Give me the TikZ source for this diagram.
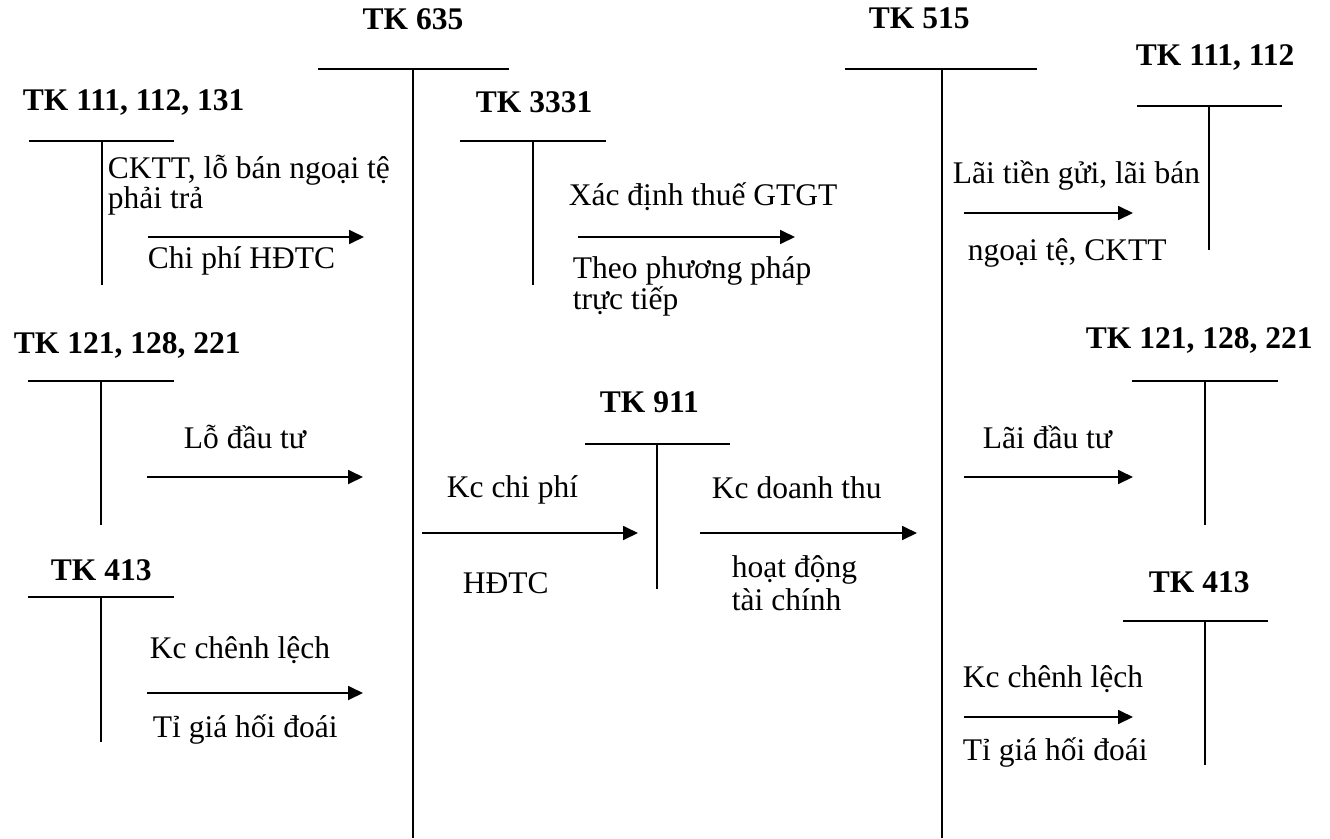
\documentclass[tikz,border=0pt]{standalone}
\usepackage{fontspec}
\setmainfont{Liberation Serif}
\usetikzlibrary{arrows.meta}
\begin{document}
\begin{tikzpicture}[x=1pt,y=-1pt,
  line width=1.8pt,
  txt/.style={inner sep=0pt,anchor=base west,font=\fontsize{31.5}{33}\selectfont},
  ttl/.style={inner sep=0pt,anchor=base west,font=\fontsize{31.5}{33}\selectfont\bfseries},
  flow/.style={-{Triangle[length=15pt,width=14pt]}}]
\useasboundingbox (0,0) rectangle (1330,838);
% --- main accounts
\node[ttl,anchor=base] (t635) at (413,29) {TK 635};
\draw (318,69) -- (509,69);
\draw (413,69) -- (413,838);
\node[ttl] (t515) at (868,28) {TK 515};
\draw (845,69) -- (1037,69);
\draw (942,69) -- (942,838);
% --- left accounts
\node[ttl] (t111) at (22,110) {TK 111, 112, 131};
\draw (29,141) -- (174,141);
\draw (102,141) -- (102,285);
\node[txt] (l1a) at (107,178) {CKTT, lỗ bán ngoại tệ};
\node[txt] (l1b) at (107,208) {phải trả};
\coordinate (a1s) at (148,237); \coordinate (a1e) at (364,237);
\draw[flow] (a1s) -- (a1e);
\node[txt] (l1c) at (147,268) {Chi phí HĐTC};

\node[ttl] (t121) at (13,353) {TK 121, 128, 221};
\draw (28,381) -- (174,381);
\draw (101,381) -- (101,525);
\node[txt] (l2a) at (183,448) {Lỗ đầu tư};
\coordinate (a2s) at (147,477); \coordinate (a2e) at (363,477);
\draw[flow] (a2s) -- (a2e);

\node[ttl] (t413) at (50,580) {TK 413};
\draw (28,597) -- (174,597);
\draw (101,597) -- (101,742);
\node[txt] (l3a) at (149,658) {Kc chênh lệch};
\coordinate (a3s) at (147,693); \coordinate (a3e) at (363,693);
\draw[flow] (a3s) -- (a3e);
\node[txt] (l3b) at (152,737) {Tỉ giá hối đoái};

% --- TK 3331
\node[ttl] (t3331) at (475,112) {TK 3331};
\draw (460,141) -- (606,141);
\draw (533,141) -- (533,285);
\node[txt] (l4a) at (568,205) {Xác định thuế GTGT};
\coordinate (a4s) at (578,237); \coordinate (a4e) at (795,237);
\draw[flow] (a4s) -- (a4e);
\node[txt] (l4b) at (572,278) {Theo phương pháp};
\node[txt] (l4c) at (572,309) {trực tiếp};

% --- TK 911
\node[ttl] (t911) at (599,412) {TK 911};
\draw (585,444) -- (730,444);
\draw (657,444) -- (657,589);
\node[txt] (l5a) at (446,497) {Kc chi phí};
\coordinate (a5s) at (422,533); \coordinate (a5e) at (638,533);
\draw[flow] (a5s) -- (a5e);
\node[txt] (l5b) at (462,593) {HĐTC};
\node[txt] (l6a) at (711,498) {Kc doanh thu};
\coordinate (a6s) at (700,533); \coordinate (a6e) at (917,533);
\draw[flow] (a6s) -- (a6e);
\node[txt] (l6b) at (731,577) {hoạt động};
\node[txt] (l6c) at (731,610) {tài chính};

% --- right accounts
\node[ttl] (t111r) at (1135,65) {TK 111, 112};
\draw (1137,106) -- (1282,106);
\draw (1209,106) -- (1209,250);
\node[txt] (l7a) at (952,183) {Lãi tiền gửi, lãi bán};
\coordinate (a7s) at (964,213); \coordinate (a7e) at (1133,213);
\draw[flow] (a7s) -- (a7e);
\node[txt] (l7b) at (967,260) {ngoại tệ, CKTT};

\node[ttl] (t121r) at (1085,348) {TK 121, 128, 221};
\draw (1132,381) -- (1278,381);
\draw (1205,381) -- (1205,525);
\node[txt] (l8a) at (982,448) {Lãi đầu tư};
\coordinate (a8s) at (964,477); \coordinate (a8e) at (1133,477);
\draw[flow] (a8s) -- (a8e);

\node[ttl] (t413r) at (1148,592) {TK 413};
\draw (1123,621) -- (1268,621);
\draw (1205,621) -- (1205,765);
\node[txt] (l9a) at (962,687) {Kc chênh lệch};
\coordinate (a9s) at (964,717); \coordinate (a9e) at (1133,717);
\draw[flow] (a9s) -- (a9e);
\node[txt] (l9b) at (962,760) {Tỉ giá hối đoái};
\end{tikzpicture}
\end{document}
